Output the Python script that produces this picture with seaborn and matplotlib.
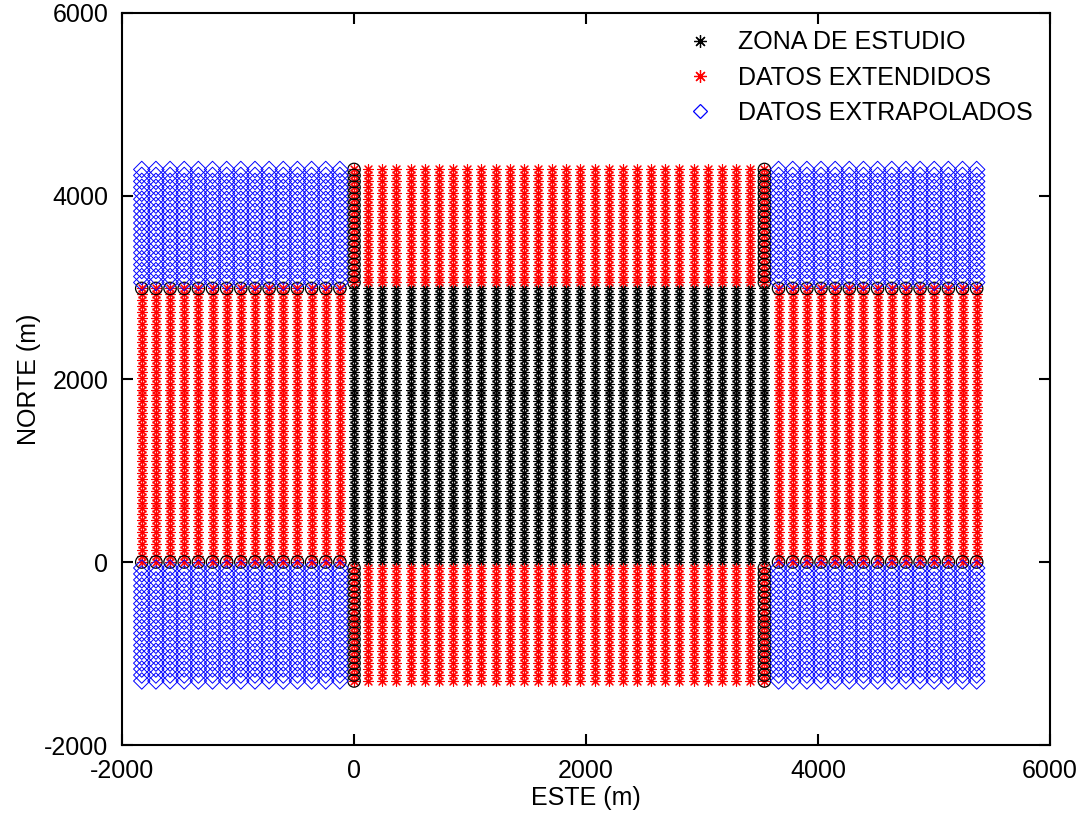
import numpy as np
import pandas as pd
import matplotlib
matplotlib.use("Agg")
import matplotlib.pyplot as plt
from matplotlib.lines import Line2D
import seaborn as sns

# grid spacing (m)
dx = 122
dy = 65

# column / row positions of each zone
x_study = np.arange(0, 30) * dx        # 0 .. 3538
y_study = np.arange(0, 47) * dy        # 0 .. 2990
x_left = np.arange(-15, 0) * dx        # -1830 .. -122
x_right = np.arange(30, 45) * dx       # 3660 .. 5368
y_below = np.arange(-20, 0) * dy       # -1300 .. -65
y_above = np.arange(47, 67) * dy       # 3055 .. 4290

labels = ['ZONA DE ESTUDIO', 'DATOS EXTENDIDOS', 'DATOS EXTRAPOLADOS']


def grid(xs, ys):
    gx, gy = np.meshgrid(xs, ys)
    return pd.DataFrame({'x': gx.ravel(), 'y': gy.ravel()})


study = grid(x_study, y_study)
extended = pd.concat([grid(x_study, y_below), grid(x_study, y_above),
                      grid(x_left, y_study), grid(x_right, y_study)])
extrap = pd.concat([grid(x_left, y_below), grid(x_left, y_above),
                    grid(x_right, y_below), grid(x_right, y_above)])
# border points of the extended data (circled)
edges = pd.concat([grid([x_study[0], x_study[-1]], y_below),
                   grid([x_study[0], x_study[-1]], y_above),
                   grid(x_left, [y_study[0], y_study[-1]]),
                   grid(x_right, [y_study[0], y_study[-1]])])

sns.set_style("ticks")
plt.rcParams['font.family'] = ['Liberation Sans', 'DejaVu Sans']
plt.rcParams['axes.unicode_minus'] = False
plt.rcParams['text.color'] = 'black'
plt.rcParams['axes.labelcolor'] = 'black'
plt.rcParams['xtick.color'] = 'black'
plt.rcParams['ytick.color'] = 'black'
plt.rcParams['axes.edgecolor'] = 'black'

fig = plt.figure(figsize=(10.81, 8.17), dpi=100)
ax = fig.add_axes([0.1129, 0.0881, 0.8584, 0.896])

star = (8, 2, 0)
sns.scatterplot(data=study, x='x', y='y', marker=star, color='black', edgecolor='black',
                s=50, linewidth=0.8, ax=ax)
sns.scatterplot(data=extended, x='x', y='y', marker=star, color='red', edgecolor='red',
                s=50, linewidth=0.8, ax=ax)
sns.scatterplot(data=edges, x='x', y='y', marker='o', facecolors='none', edgecolor='black',
                s=80, linewidth=0.9, ax=ax)
sns.scatterplot(data=extrap, x='x', y='y', marker='D', facecolors='none', edgecolor='blue',
                s=70, linewidth=0.7, ax=ax)

ax.set_xlim(-2000, 6000)
ax.set_ylim(-2000, 6000)
ax.set_xticks([-2000, 0, 2000, 4000, 6000])
ax.set_yticks([-2000, 0, 2000, 4000, 6000])
ax.tick_params(direction='in', length=8, width=1.5, labelsize=18, top=True, right=True, pad=10)
for sp in ax.spines.values():
    sp.set_linewidth(1.5)
ax.set_xlabel('ESTE (m)', fontsize=18, labelpad=2)
ax.set_ylabel('NORTE (m)', fontsize=18, labelpad=2)

handles = [Line2D([], [], ls='none', marker=star, color='black', markersize=9, mew=0.9),
           Line2D([], [], ls='none', marker=star, color='red', markersize=9, mew=0.9),
           Line2D([], [], ls='none', marker='D', mfc='none', mec='blue', markersize=7, mew=0.9)]
ax.legend(handles, labels, loc='upper right', frameon=False, fontsize=18,
          handlelength=1.2, handletextpad=0.9, labelspacing=0.45,
          bbox_to_anchor=(1.0, 1.0), borderaxespad=0.3)

fig.savefig('out.png', dpi=100)
